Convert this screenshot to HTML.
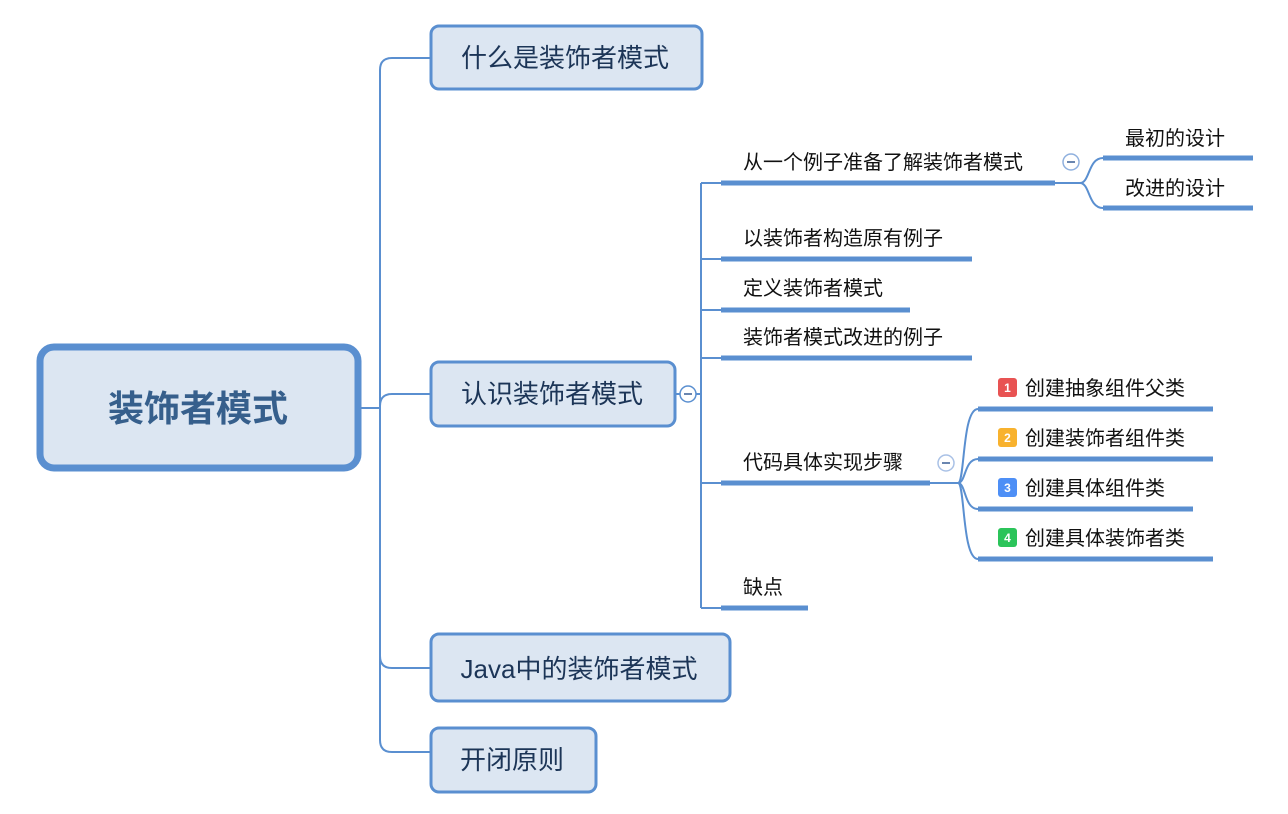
<!DOCTYPE html>
<html><head><meta charset="utf-8"><style>
html,body{margin:0;padding:0;background:#fff;}
svg{display:block;}
text{font-family:"Liberation Sans","Noto Sans CJK SC",sans-serif;}
.m{font-size:26px;fill:#1c3557;}
.s{font-size:20px;fill:#111;}
.b{font-size:12px;fill:#fff;font-weight:bold;}
</style></head><body>
<svg width="1288" height="814" viewBox="0 0 1288 814" xmlns="http://www.w3.org/2000/svg">
<g fill="none" stroke="#5a8fd0" stroke-width="2">
 <path d="M361 408 H380"/>
 <path d="M430 58 H392 Q380 58 380 70 V740 Q380 752 392 752 H430"/>
 <path d="M380 406 Q380 394 392 394 H430"/>
 <path d="M380 656 Q380 668 392 668 H430"/>
 <path d="M675 394 H701"/>
 <path d="M701 183 V608"/>
 <path d="M701 183 H721 M701 259 H721 M701 310 H721 M701 358 H721 M701 483 H721 M701 608 H721"/>
 <path d="M1055 183 H1080"/>
 <path d="M1080 183 C1090 183 1088 158 1103 158"/>
 <path d="M1080 183 C1090 183 1088 208 1103 208"/>
 <path d="M930 483 H958"/>
 <path d="M958 483 C965 483 962 409 978 409"/>
 <path d="M958 483 C966 483 964 459 978 459"/>
 <path d="M958 483 C966 483 964 509 978 509"/>
 <path d="M958 483 C965 483 962 559 978 559"/>
</g>
<g fill="none" stroke="#5a8fd0" stroke-width="5">
 <path d="M721 183 H1055 M721 259 H972 M721 310 H910 M721 358 H972 M721 483 H930 M721 608 H808"/>
 <path d="M1103 158 H1253 M1103 208 H1253"/>
 <path d="M978 409 H1213 M978 459 H1213 M978 509 H1193 M978 559 H1213"/>
</g>
<rect x="40" y="347" width="318" height="121" rx="14" fill="#dce6f2" stroke="#5a8fd0" stroke-width="7"/>
<text x="198" y="421" text-anchor="middle" style="font-size:36px;font-weight:bold;fill:#365f8c">装饰者模式</text>
<rect x="431" y="26" width="271" height="63" rx="8" fill="#dce6f2" stroke="#5a8fd0" stroke-width="3"/>
<text class="m" x="565" y="67" text-anchor="middle">什么是装饰者模式</text>
<rect x="431" y="362" width="244" height="64" rx="8" fill="#dce6f2" stroke="#5a8fd0" stroke-width="3"/>
<text class="m" x="552" y="403" text-anchor="middle">认识装饰者模式</text>
<rect x="431" y="634" width="299" height="67" rx="8" fill="#dce6f2" stroke="#5a8fd0" stroke-width="3"/>
<text class="m" x="579" y="678" text-anchor="middle">Java中的装饰者模式</text>
<rect x="431" y="728" width="165" height="64" rx="8" fill="#dce6f2" stroke="#5a8fd0" stroke-width="3"/>
<text class="m" x="512" y="769" text-anchor="middle">开闭原则</text>
<g fill="#fff" stroke="#5a8fd0" stroke-width="1.5">
 <circle cx="688" cy="394" r="8"/>
 <circle cx="1071" cy="162" r="8" stroke="#8fb0de"/>
 <circle cx="946" cy="463" r="8" stroke="#a9c1e6"/>
</g>
<g stroke="#6a86b0" stroke-width="2">
 <path d="M684 394 H692 M1067 162 H1075 M942 463 H950"/>
</g>
<text class="s" x="743" y="169">从一个例子准备了解装饰者模式</text>
<text class="s" x="743" y="245">以装饰者构造原有例子</text>
<text class="s" x="743" y="295">定义装饰者模式</text>
<text class="s" x="743" y="344">装饰者模式改进的例子</text>
<text class="s" x="743" y="469">代码具体实现步骤</text>
<text class="s" x="743" y="594">缺点</text>
<text class="s" x="1125" y="145">最初的设计</text>
<text class="s" x="1125" y="195">改进的设计</text>
<rect x="998" y="378" width="19" height="19" rx="3" fill="#e85353"/>
<text class="b" x="1007.5" y="392" text-anchor="middle">1</text>
<rect x="998" y="428" width="19" height="19" rx="3" fill="#f8b22e"/>
<text class="b" x="1007.5" y="442" text-anchor="middle">2</text>
<rect x="998" y="478" width="19" height="19" rx="3" fill="#4e8ff6"/>
<text class="b" x="1007.5" y="492" text-anchor="middle">3</text>
<rect x="998" y="528" width="19" height="19" rx="3" fill="#2bc45a"/>
<text class="b" x="1007.5" y="542" text-anchor="middle">4</text>
<text class="s" x="1025" y="395">创建抽象组件父类</text>
<text class="s" x="1025" y="445">创建装饰者组件类</text>
<text class="s" x="1025" y="495">创建具体组件类</text>
<text class="s" x="1025" y="545">创建具体装饰者类</text>
</svg>
</body></html>
